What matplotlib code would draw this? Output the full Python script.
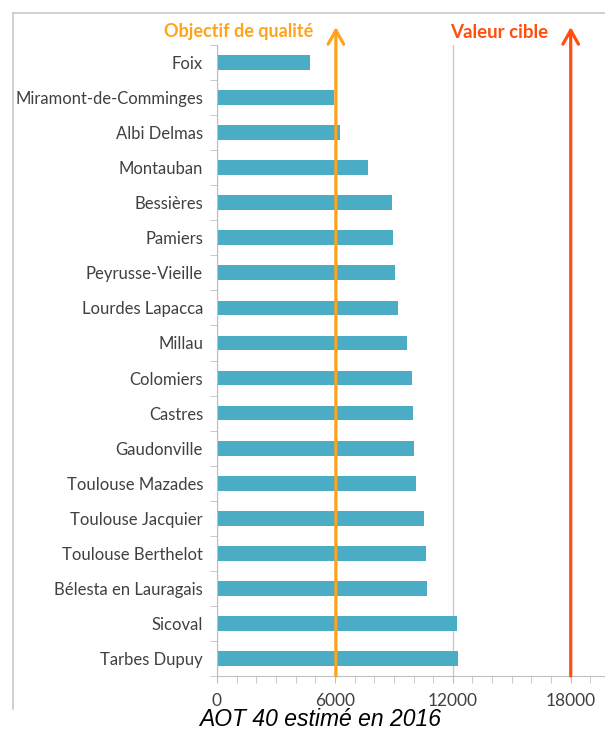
import matplotlib
matplotlib.use("Agg")
import matplotlib.pyplot as plt
from matplotlib.ticker import MultipleLocator, FixedLocator, NullFormatter
from matplotlib.lines import Line2D

# stations, top to bottom
stations = ["Foix", "Miramont-de-Comminges", "Albi Delmas", "Montauban",
            "Bessières", "Pamiers", "Peyrusse-Vieille", "Lourdes Lapacca",
            "Millau", "Colomiers", "Castres", "Gaudonville",
            "Toulouse Mazades", "Toulouse Jacquier", "Toulouse Berthelot",
            "Bélesta en Lauragais", "Sicoval", "Tarbes Dupuy"]
aot40 = [4750, 5950, 6280, 7670, 8910, 8940, 9050, 9200, 9660, 9910,
         9960, 10050, 10150, 10530, 10650, 10680, 12190, 12260]

objectif = 6050   # drawn arrow sits a bit right of 6000
valeur_cible = 18000

W, H = 605, 731
fig = plt.figure(figsize=(W / 100, H / 100), dpi=100)
ax = fig.add_axes([217 / W, 1 - 676 / H, (610 - 217) / W, (676 - 45) / H])

ypos = list(range(len(stations)))
ax.barh(ypos, aot40, height=0.42, color="#4BACC6", zorder=2)
ax.set_ylim(len(stations) - 0.5, -0.5)
ax.set_xlim(0, 20000)

# y axis: labels at bars, small marks between categories
ax.set_yticks(ypos)
ax.set_yticklabels(stations, family="Lato", fontsize=12, color="#404040")
ax.yaxis.set_minor_locator(FixedLocator([i - 0.5 for i in range(len(stations) + 1)]))
ax.tick_params(axis="y", which="major", length=0, pad=10)
ax.tick_params(axis="y", which="minor", length=5, color="#bfbfbf", direction="out")

# x axis
ax.xaxis.set_major_locator(MultipleLocator(6000))
ax.xaxis.set_minor_locator(MultipleLocator(1000))
ax.xaxis.set_minor_formatter(NullFormatter())
ax.tick_params(axis="x", which="both", length=5, color="#bfbfbf", direction="out")
ax.tick_params(axis="x", which="major", pad=7, labelsize=12.5, labelcolor="#404040")
for lab in ax.get_xticklabels():
    lab.set_family("Lato")
ax.grid(axis="x", which="major", color="#c8c8c8", lw=1, zorder=0)

for s in ["top", "right"]:
    ax.spines[s].set_visible(False)
for s in ["left", "bottom"]:
    ax.spines[s].set_color("#bfbfbf")

# threshold arrows
for xval, col in [(objectif, "#FFA31A"), (valeur_cible, "#FF4F0F")]:
    ax.annotate("", xy=(xval, 1.0285), xycoords=("data", "axes fraction"),
                xytext=(xval, 0), textcoords=("data", "axes fraction"),
                arrowprops=dict(arrowstyle="->,head_length=0.5,head_width=0.28",
                                color=col, lw=2.3, shrinkA=0, shrinkB=0,
                                mutation_scale=20),
                annotation_clip=False, zorder=5)

fig.text(313 / W, 1 - 32 / H, "Objectif de qualité", ha="right", va="center",
         color="#FFA31A", fontsize=13, fontweight="bold", family="Lato")
fig.text(548 / W, 1 - 32 / H, "Valeur cible", ha="right", va="center",
         color="#FF4F0F", fontsize=13.5, fontweight="bold", family="Lato")

fig.text(320 / W, 1 - 719 / H, "AOT 40 estimé en 2016", ha="center", va="center",
         fontsize=16.5, style="italic", family="Liberation Sans")

# outer frame (top and left edges visible)
fig.add_artist(Line2D([13 / W, 1], [1 - 13 / H, 1 - 13 / H], color="#c8c8c8", lw=1.2))
fig.add_artist(Line2D([13 / W, 13 / W], [1 - 13 / H, 1 - 709 / H], color="#c8c8c8", lw=1.2))

fig.savefig("out.png", dpi=100)
